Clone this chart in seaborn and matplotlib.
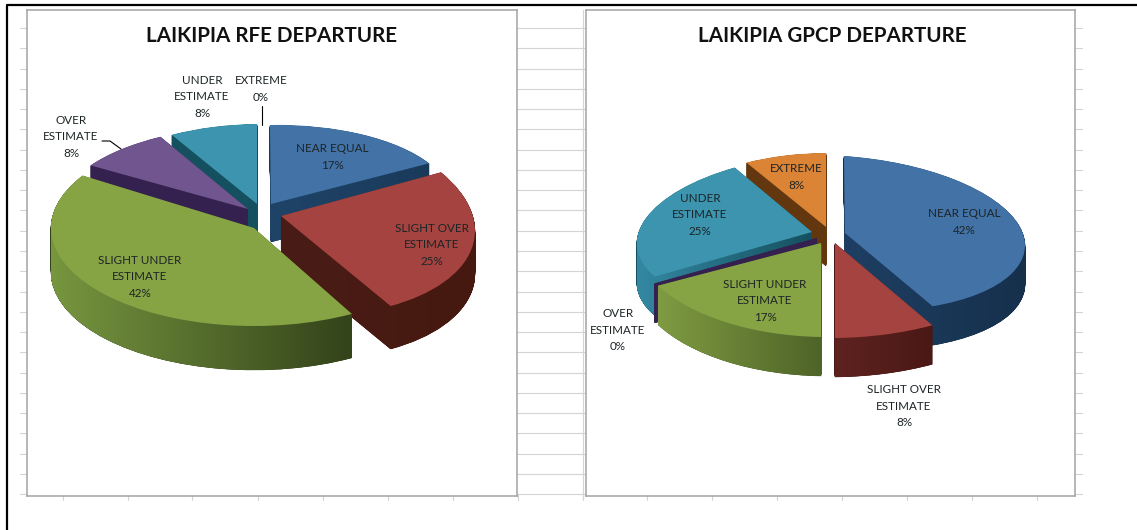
import numpy as np
import matplotlib
matplotlib.use('Agg')
import matplotlib.pyplot as plt
from matplotlib.colors import LinearSegmentedColormap
from matplotlib.patches import PathPatch
from matplotlib.path import Path
from matplotlib.transforms import Affine2D
import seaborn as sns

# Data
rfe_labels = ['NEAR EQUAL', 'SLIGHT OVER\nESTIMATE', 'SLIGHT UNDER\nESTIMATE',
              'OVER\nESTIMATE', 'UNDER\nESTIMATE', 'EXTREME']
rfe_values = [17, 25, 42, 8, 8, 0]
gpcp_labels = ['NEAR EQUAL', 'SLIGHT OVER\nESTIMATE', 'SLIGHT UNDER\nESTIMATE',
               'OVER\nESTIMATE', 'UNDER\nESTIMATE', 'EXTREME']
gpcp_values = [42, 8, 17, 0, 25, 8]

# Layout, all in image pixels
W, H = 1137, 530

top_colors = sns.color_palette(['#4272A6', '#A54340', '#87A445', '#70558F', '#3C94AE', '#DC8435'])
rfe_walls = [('#1F4468', '#1A3A5A'), ('#4A1C17', '#45190F'), ('#77963F', '#33431A'),
             ('#35214F', '#35214F'), ('#14505F', '#14505F'), ('#6B3A10', '#6B3A10')]
gpcp_walls = [('#1E3F63', '#16304C'), ('#5E2320', '#4A1815'), ('#7F9B42', '#4F6428'),
              ('#35214F', '#35214F'), ('#3488A2', '#14505F'), ('#63370F', '#63370F')]

# how each unit slice is placed: apex x, apex y, then the squash/shear a, s, t, b, then wall depth
rfe_geom = [(271, 204, 181, -1, 3, 79, 38), (281, 216, 193, -19, -5, 100, 43), (254, 228, 203, 0, 0, 98, 44),
            (248, 209, 189, 4, 1, 83, 38), (257, 204, 177, 0, 2, 80, 38), (262, 204, 170, 0, 0, 80, 38)]
rfe_order = [0, 5, 4, 3, 1, 2]
gpcp_geom = [(845, 233, 180, -1, -12, 77, 39), (835, 243, 202, 0, 2, 95, 39), (821, 243, 186, 0, -3, 94, 39),
             (817, 238, 181, 8, 8, 80, 39), (812, 232, 175, 8, 8, 78, 39), (826, 227, 165, 0, 1, 74, 39)]
gpcp_order = [5, 4, 3, 2, 0, 1]

rfe_text_pos = [(332, 157), (432, 245), (140, 277), (71, 137), (202, 97), (261, 89)]
gpcp_text_pos = [(964, 222), (904, 406), (765, 301), (618, 330), (700, 215), (796, 177)]


def draw_pie(ax, values, geom, order, walls, skip_zero):
    wedges, _ = ax.pie(values, startangle=90, counterclock=False, colors=top_colors,
                       wedgeprops={'linewidth': 0})
    for rank, i in enumerate(order):
        w = wedges[i]
        x, y, a, s, t, b, depth = geom[i]
        place = Affine2D(np.array([[a, s, x], [t, b, -y], [0, 0, 1]], dtype=float))
        top = place.transform_path(w.get_path())
        w.set_transform(place + ax.transData)
        w.set_zorder(10 + rank * 3 + 2)
        if values[i] == 0:
            if skip_zero:
                w.set_visible(False)
                continue
            w.set_edgecolor(top_colors[i])
            w.set_linewidth(0.012)
        # side wall = the slice pushed down, layer on layer
        layers = []
        for d in np.arange(0.5, depth + 0.5, 0.5):
            layers.append(Path(top.vertices - [0, d], top.codes))
        wall = Path.make_compound_path(*layers)
        ax.add_patch(PathPatch(wall, facecolor=walls[i][1], edgecolor=walls[i][1],
                               linewidth=1.0 if values[i] == 0 else 0.3,
                               zorder=10 + rank * 3))
        if values[i] > 0:
            ext = wall.get_extents()
            cmap = LinearSegmentedColormap.from_list('w', list(walls[i]))
            im = ax.imshow(np.linspace(0, 1, 128).reshape(1, -1), cmap=cmap, aspect='auto',
                           extent=(ext.x0, ext.x1, ext.y0, ext.y1), zorder=10 + rank * 3 + 1)
            im.set_clip_path(wall, ax.transData)


def chart_axes(fig, x0, x1, y0, y1):
    ax = fig.add_axes([x0 / W, 1 - y1 / H, (x1 - x0) / W, (y1 - y0) / H])
    ax.set_facecolor('white')
    return ax


def finish_axes(ax, x0, x1, y0, y1):
    ax.set_aspect('auto')
    ax.set_xlim(x0, x1)
    ax.set_ylim(-y1, -y0)
    ax.set_xticks([])
    ax.set_yticks([])
    ax.set_frame_on(True)
    for s in ax.spines.values():
        s.set_visible(True)
        s.set_color('#A3A3A3')
        s.set_linewidth(1.1)


sns.set_theme(style='white')
plt.rcParams['font.family'] = ['Lato', 'DejaVu Sans']

fig = plt.figure(figsize=(W / 100, H / 100), dpi=100, facecolor='white')

# Spreadsheet behind the charts
bg = fig.add_axes([0, 0, 1, 1])
bg.set_xlim(0, W)
bg.set_ylim(H, 0)
bg.axis('off')
for y in np.arange(28, 500, 20.27):
    bg.plot([20, 1082], [y, y], color='#D4D4D4', lw=0.8)
for x in [63, 128, 192, 258, 323, 388, 453, 518, 583, 647, 712, 777, 842, 907, 972, 1037]:
    bg.plot([x, x], [494, 500], color='#D4D4D4', lw=0.8)
bg.plot([583, 583], [10, 500], color='#D4D4D4', lw=0.8)
bg.plot([6.5, 6.5, W], [H, 5, 5], color='black', lw=1.6)

ax1 = chart_axes(fig, 27, 517, 9.5, 496)
draw_pie(ax1, rfe_values, rfe_geom, rfe_order, rfe_walls, True)
finish_axes(ax1, 27, 517, 9.5, 496)
ax1.plot([262, 262], [-106, -125], color='black', lw=0.8, zorder=40)
ax1.plot([102, 110, 121], [-141, -141, -149], color='black', lw=0.8, zorder=40)

ax2 = chart_axes(fig, 586, 1075, 9.5, 496)
draw_pie(ax2, gpcp_values, gpcp_geom, gpcp_order, gpcp_walls, False)
finish_axes(ax2, 586, 1075, 9.5, 496)

for labels, values, pos in [(rfe_labels, rfe_values, rfe_text_pos), (gpcp_labels, gpcp_values, gpcp_text_pos)]:
    for lab, val, (x, y) in zip(labels, values, pos):
        fig.text(x / W, 1 - y / H, f'{lab}\n{val}%', ha='center', va='center', fontsize=8.4,
                 color='#1C2426', linespacing=1.56)

fig.text(272 / W, 1 - 35.5 / H, 'LAIKIPIA RFE DEPARTURE', ha='center', va='center',
         fontsize=14.85, fontweight='bold', color='#111111')
fig.text(832 / W, 1 - 35.5 / H, 'LAIKIPIA GPCP DEPARTURE', ha='center', va='center',
         fontsize=14.85, fontweight='bold', color='#111111')

fig.savefig('out.png', dpi=100)
